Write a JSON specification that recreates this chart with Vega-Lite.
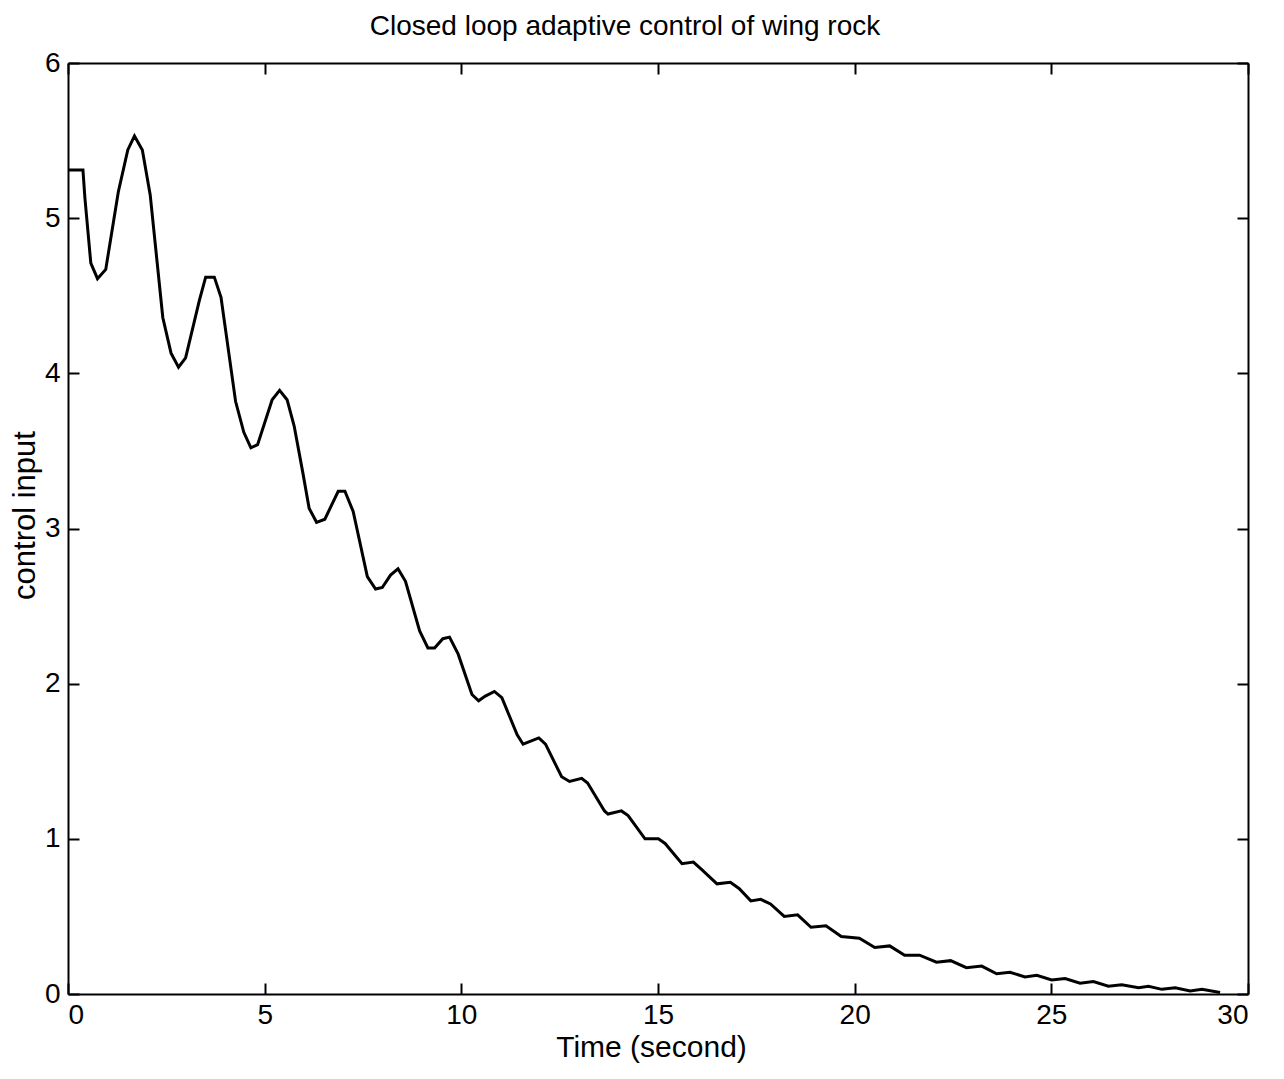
{
  "$schema": "https://vega.github.io/schema/vega-lite/v6.json",
  "width": 1180,
  "height": 931,
  "autosize": {"type": "none"},
  "padding": {"left": 68, "top": 63, "right": 36, "bottom": 85},
  "background": "white",
  "config": {
    "view": {"stroke": null},
    "font": "Liberation Sans",
    "axis": {
      "domainColor": "black",
      "domainWidth": 2,
      "tickColor": "black",
      "tickWidth": 2,
      "tickSize": -11,
      "grid": false,
      "labelFont": "Liberation Sans",
      "labelFontSize": 28,
      "labelColor": "black",
      "titleFont": "Liberation Sans",
      "titleFontSize": 31,
      "titleFontWeight": "normal",
      "titleColor": "black"
    }
  },
  "title": {
    "text": "Closed loop adaptive control of wing rock",
    "font": "Liberation Sans",
    "fontSize": 28,
    "fontWeight": "normal",
    "color": "black",
    "offset": 8,
    "dx": -33
  },
  "data": {
    "values": [
      {"t": 0, "u": 5.31}, {"t": 0.38, "u": 5.31}, {"t": 0.43, "u": 5.13}, {"t": 0.58, "u": 4.71},
      {"t": 0.75, "u": 4.61}, {"t": 0.96, "u": 4.67}, {"t": 1.28, "u": 5.17}, {"t": 1.52, "u": 5.44},
      {"t": 1.69, "u": 5.53}, {"t": 1.89, "u": 5.44}, {"t": 2.09, "u": 5.15}, {"t": 2.41, "u": 4.36},
      {"t": 2.62, "u": 4.13}, {"t": 2.81, "u": 4.04}, {"t": 2.99, "u": 4.10}, {"t": 3.34, "u": 4.47},
      {"t": 3.50, "u": 4.62}, {"t": 3.72, "u": 4.62}, {"t": 3.89, "u": 4.49}, {"t": 4.26, "u": 3.82},
      {"t": 4.47, "u": 3.62}, {"t": 4.65, "u": 3.52}, {"t": 4.82, "u": 3.54}, {"t": 5.19, "u": 3.83},
      {"t": 5.38, "u": 3.89}, {"t": 5.57, "u": 3.83}, {"t": 5.75, "u": 3.66}, {"t": 5.97, "u": 3.36},
      {"t": 6.13, "u": 3.13}, {"t": 6.32, "u": 3.04}, {"t": 6.53, "u": 3.06}, {"t": 6.87, "u": 3.24},
      {"t": 7.04, "u": 3.24}, {"t": 7.25, "u": 3.11}, {"t": 7.61, "u": 2.69}, {"t": 7.82, "u": 2.61},
      {"t": 7.99, "u": 2.62}, {"t": 8.20, "u": 2.70}, {"t": 8.39, "u": 2.74}, {"t": 8.58, "u": 2.66},
      {"t": 8.94, "u": 2.34}, {"t": 9.15, "u": 2.23}, {"t": 9.32, "u": 2.23}, {"t": 9.53, "u": 2.29},
      {"t": 9.70, "u": 2.30}, {"t": 9.92, "u": 2.19}, {"t": 10.27, "u": 1.93}, {"t": 10.44, "u": 1.89},
      {"t": 10.61, "u": 1.92}, {"t": 10.84, "u": 1.95}, {"t": 11.03, "u": 1.91}, {"t": 11.42, "u": 1.67},
      {"t": 11.57, "u": 1.61}, {"t": 11.97, "u": 1.65}, {"t": 12.14, "u": 1.61}, {"t": 12.55, "u": 1.40},
      {"t": 12.75, "u": 1.37}, {"t": 13.06, "u": 1.39}, {"t": 13.21, "u": 1.36}, {"t": 13.64, "u": 1.18},
      {"t": 13.73, "u": 1.16}, {"t": 14.07, "u": 1.18}, {"t": 14.24, "u": 1.15}, {"t": 14.67, "u": 1.00},
      {"t": 15.01, "u": 1.00}, {"t": 15.18, "u": 0.97}, {"t": 15.61, "u": 0.84}, {"t": 15.90, "u": 0.85},
      {"t": 16.12, "u": 0.80}, {"t": 16.50, "u": 0.71}, {"t": 16.84, "u": 0.72}, {"t": 17.06, "u": 0.68},
      {"t": 17.36, "u": 0.60}, {"t": 17.61, "u": 0.61}, {"t": 17.86, "u": 0.58}, {"t": 18.21, "u": 0.50},
      {"t": 18.55, "u": 0.51}, {"t": 18.89, "u": 0.43}, {"t": 19.27, "u": 0.44}, {"t": 19.66, "u": 0.37},
      {"t": 20.12, "u": 0.36}, {"t": 20.51, "u": 0.30}, {"t": 20.89, "u": 0.31}, {"t": 21.27, "u": 0.25},
      {"t": 21.65, "u": 0.25}, {"t": 22.08, "u": 0.205}, {"t": 22.44, "u": 0.215}, {"t": 22.84, "u": 0.17},
      {"t": 23.23, "u": 0.18}, {"t": 23.61, "u": 0.13}, {"t": 23.95, "u": 0.14}, {"t": 24.33, "u": 0.11},
      {"t": 24.63, "u": 0.12}, {"t": 25.01, "u": 0.09}, {"t": 25.35, "u": 0.10}, {"t": 25.73, "u": 0.07},
      {"t": 26.07, "u": 0.08}, {"t": 26.45, "u": 0.05}, {"t": 26.79, "u": 0.06}, {"t": 27.22, "u": 0.04},
      {"t": 27.47, "u": 0.05}, {"t": 27.81, "u": 0.03}, {"t": 28.15, "u": 0.04}, {"t": 28.53, "u": 0.02},
      {"t": 28.83, "u": 0.03}, {"t": 29.29, "u": 0.01}
    ]
  },
  "layer": [
    {
      "mark": {"type": "line", "color": "black", "strokeWidth": 3, "clip": true},
      "encoding": {
        "x": {
          "field": "t", "type": "quantitative",
          "scale": {"domain": [0, 30], "nice": false},
          "axis": {
            "orient": "bottom",
            "values": [0, 5, 10, 15, 20, 25, 30],
            "labelPadding": 18,
            "title": "Time (second)",
            "titleFontSize": 30,
            "titleX": 583, "titleY": 62,
            "titleBaseline": "alphabetic",
            "titleAlign": "center"
          }
        },
        "y": {
          "field": "u", "type": "quantitative",
          "scale": {"domain": [0, 6], "nice": false},
          "axis": {
            "orient": "left",
            "values": [0, 1, 2, 3, 4, 5, 6],
            "labelPadding": 19,
            "title": "control input",
            "titleAngle": -90,
            "titleX": -43, "titleY": 452,
            "titleBaseline": "middle",
            "titleAlign": "center"
          }
        }
      }
    },
    {
      "mark": {"type": "line", "strokeOpacity": 0},
      "encoding": {
        "x": {
          "field": "t", "type": "quantitative",
          "scale": {"domain": [0, 30], "nice": false},
          "axis": {"orient": "top", "values": [0, 5, 10, 15, 20, 25, 30], "labels": false, "title": null}
        },
        "y": {
          "field": "u", "type": "quantitative",
          "scale": {"domain": [0, 6], "nice": false},
          "axis": {"orient": "right", "values": [0, 1, 2, 3, 4, 5, 6], "labels": false, "title": null}
        }
      }
    }
  ],
  "resolve": {"axis": {"x": "independent", "y": "independent"}}
}
